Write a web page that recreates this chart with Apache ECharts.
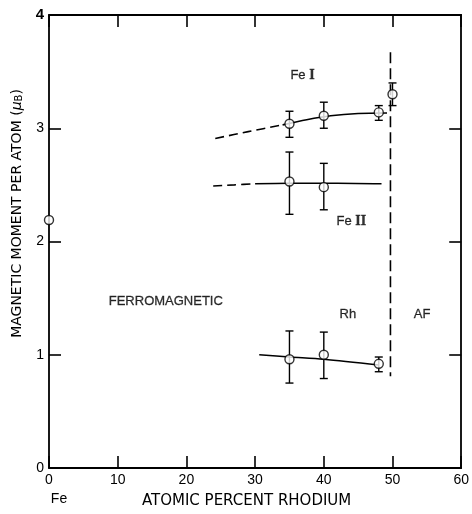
<!DOCTYPE html>
<html><head><meta charset="utf-8">
<script src="https://cdn.jsdelivr.net/npm/echarts@6/dist/echarts.min.js"></script>
<style>html,body{margin:0;padding:0;background:#fff}#c{width:472px;height:514px}</style>
</head><body><div id="c"></div>
<script>
// Measured points: [at% Rh, moment, errLow, errHigh]
const feIPoints = [[35, 3.04, 2.92, 3.15], [40, 3.11, 3.00, 3.23], [48, 3.14, 3.07, 3.20], [50, 3.30, 3.20, 3.40]];
const feIIPoints = [[35, 2.53, 2.24, 2.79], [40, 2.48, 2.28, 2.69]];
const rhPoints = [[35, 0.96, 0.75, 1.21], [40, 1.00, 0.79, 1.20], [48, 0.92, 0.85, 0.98]];
const fePure = [[0, 2.19]];
// Guide curves
const feICurveDashed = [[24.2, 2.91], [29, 2.97], [34, 3.03]];
const feICurveSolid = [[34, 3.03], [37.5, 3.075], [41, 3.11], [45, 3.13], [49.2, 3.135]];
const feIICurveDashed = [[23.9, 2.49], [27, 2.50], [30, 2.51]];
const feIICurveSolid = [[30, 2.51], [35, 2.515], [42, 2.515], [48.4, 2.51]];
const rhCurve = [[30.6, 1.00], [35, 0.98], [40, 0.96], [48, 0.91]];
const phaseBoundary = [[49.7, 3.67], [49.7, 0.81]];
// Annotations
const annotations = [
  {name: 'Fe {r|I}', value: [36.9, 3.47]},
  {name: 'Fe {r|II}', value: [44.0, 2.18]},
  {name: 'FERROMAGNETIC', value: [17.0, 1.47]},
  {name: 'Rh', value: [43.5, 1.36]},
  {name: 'AF', value: [54.3, 1.36]}
];
const xTicks = [0, 10, 20, 30, 40, 50, 60];
const yTicks = [0, 1, 2, 3, 4];

const FONT = 'Liberation Sans';
const TFONT = 'DejaVu Sans';
const chart = echarts.init(document.getElementById('c'));
const axisLine = {show: true, onZero: false, lineStyle: {color: '#000', width: 1.8}};
const tick = {show: true, inside: true, length: 12, lineStyle: {color: '#000', width: 1.6}};

function errRender(params, api) {
  const x = api.value(0), lo = api.value(2), hi = api.value(3);
  const pLo = api.coord([x, lo]), pHi = api.coord([x, hi]);
  const w = 4;
  const st = {stroke: '#000', lineWidth: 1.4};
  return {type: 'group', children: [
    {type: 'line', shape: {x1: pLo[0], y1: pLo[1], x2: pHi[0], y2: pHi[1]}, style: st},
    {type: 'line', shape: {x1: pLo[0] - w, y1: pLo[1], x2: pLo[0] + w, y2: pLo[1]}, style: st},
    {type: 'line', shape: {x1: pHi[0] - w, y1: pHi[1], x2: pHi[0] + w, y2: pHi[1]}, style: st}
  ]};
}
const lineBase = (data, dashed) => ({
  type: 'line', data, smooth: 0.3, symbol: 'none', silent: true,
  lineStyle: {color: '#000', width: 1.6, type: dashed ? [9, 5] : 'solid'}, z: 2
});
const allPoints = feIPoints.concat(feIIPoints, rhPoints);

chart.setOption({
  animation: false,
  backgroundColor: '#fff',
  textStyle: {fontFamily: FONT},
  grid: {left: 49, right: 9, top: 15, bottom: 37},
  xAxis: [{
    type: 'value', min: 0, max: 60, interval: 10, position: 'bottom',
    axisLine, splitLine: {show: false}, axisTick: tick,
    axisLabel: {color: '#000', fontSize: 14, margin: 5, fontFamily: FONT},
    name: 'ATOMIC PERCENT RHODIUM', nameLocation: 'middle', nameGap: 26,
    nameTextStyle: {color: '#000', fontSize: 15, padding: [0, 17, 0, 0], fontFamily: TFONT}
  }, {
    type: 'value', min: 0, max: 60, interval: 10, position: 'top',
    axisLine, splitLine: {show: false}, axisLabel: {show: false}, axisTick: tick
  }],
  yAxis: [{
    type: 'value', min: 0, max: 4, interval: 1, position: 'left',
    axisLine, splitLine: {show: false}, axisTick: tick,
    axisLabel: {color: '#000', fontSize: 14, margin: 5, fontFamily: FONT,
      formatter: v => v === 4 ? '{b|4}' : String(v),
      rich: {b: {fontSize: 15, fontWeight: 'bold', fontFamily: FONT, color: '#000'}}},
    name: 'MAGNETIC MOMENT PER ATOM ({s|μ}{b|B})', nameLocation: 'middle', nameGap: 24, nameRotate: 90,
    nameTextStyle: {color: '#000', fontSize: 14, padding: [0, 0, 0, 56], fontFamily: TFONT,
      rich: {s: {fontSize: 14, fontStyle: 'italic', fontFamily: TFONT}, b: {fontSize: 10, verticalAlign: 'bottom', padding: [4, 0, 0, 0], fontFamily: TFONT}}}
  }, {
    type: 'value', min: 0, max: 4, interval: 1, position: 'right',
    axisLine, splitLine: {show: false}, axisLabel: {show: false}, axisTick: tick
  }],
  series: [
    lineBase(feICurveDashed, true),
    lineBase(feICurveSolid, false),
    lineBase(feIICurveDashed, true),
    lineBase(feIICurveSolid, false),
    lineBase(rhCurve, false),
    {type: 'line', data: phaseBoundary, symbol: 'none', silent: true,
      lineStyle: {color: '#000', width: 1.6, type: [11, 5]}, z: 2},
    {type: 'custom', renderItem: errRender, data: allPoints, z: 3, silent: true},
    {type: 'scatter', data: allPoints.map(p => [p[0], p[1]]).concat(fePure), symbol: 'circle', symbolSize: 9,
      itemStyle: {color: '#fff', borderColor: '#000', borderWidth: 1.4}, z: 5, clip: false, silent: true},
    {type: 'scatter', data: annotations, symbolSize: 0, silent: true, z: 6,
      label: {show: true, position: 'inside', formatter: '{b}', color: '#000', fontSize: 13, fontFamily: FONT,
        textBorderColor: '#000', textBorderWidth: 0.3,
        rich: {r: {fontFamily: 'Liberation Serif', fontSize: 14, fontWeight: 'bold', color: '#000'}}}}
  ]
});
const fePos = chart.convertToPixel({xAxisIndex: 0, yAxisIndex: 0}, [0, 0]);
chart.setOption({graphic: [{type: 'text', x: fePos[0] + 10, y: fePos[1] + 31,
  style: {text: 'Fe', fill: '#000', fontSize: 14, fontFamily: FONT, align: 'center', verticalAlign: 'middle'}}]});
</script></body></html>
